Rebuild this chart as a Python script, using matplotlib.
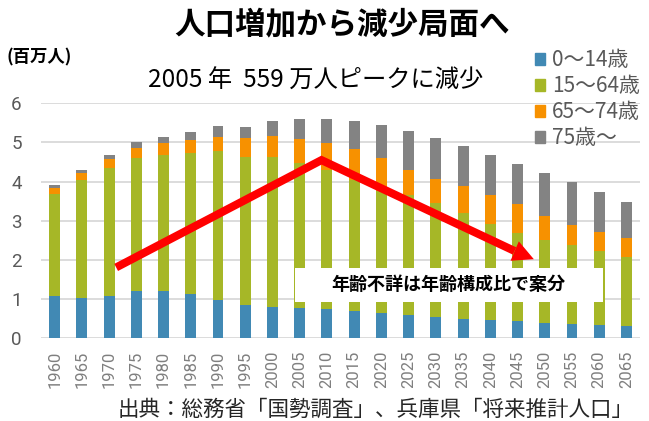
import numpy as np
import matplotlib
matplotlib.use('Agg')
import matplotlib.pyplot as plt
from matplotlib.patches import Patch, Rectangle

plt.rcParams['font.family'] = ['Noto Sans CJK JP', 'DejaVu Sans']

### Data (millions of people, Hyogo)
years = ['1960', '1965', '1970', '1975', '1980', '1985', '1990', '1995', '2000', '2005', '2010',
         '2015', '2020', '2025', '2030', '2035', '2040', '2045', '2050', '2055', '2060', '2065']
age_0_14 = [1.08, 1.02, 1.09, 1.22, 1.22, 1.14, 0.99, 0.86, 0.81, 0.78, 0.76,
            0.71, 0.65, 0.59, 0.54, 0.50, 0.48, 0.44, 0.40, 0.37, 0.35, 0.32]
age_15_64 = [2.60, 3.02, 3.26, 3.38, 3.45, 3.60, 3.78, 3.78, 3.81, 3.70, 3.55,
             3.33, 3.12, 3.06, 2.91, 2.70, 2.44, 2.25, 2.12, 2.00, 1.88, 1.76]
age_65_74 = [0.17, 0.18, 0.22, 0.27, 0.31, 0.33, 0.37, 0.47, 0.55, 0.61, 0.68,
             0.79, 0.83, 0.66, 0.62, 0.70, 0.75, 0.73, 0.61, 0.53, 0.48, 0.47]
age_75_up = [0.06, 0.09, 0.10, 0.13, 0.17, 0.21, 0.27, 0.29, 0.38, 0.51, 0.61,
             0.71, 0.85, 0.99, 1.05, 1.02, 1.01, 1.04, 1.10, 1.09, 1.02, 0.93]
series_labels = ['0〜14歳', '15〜64歳', '65〜74歳', '75歳〜']
series_colors = ['#4189B4', '#A6B727', '#F79100', '#838383']

### Annotation arrow (data coords): start, peak, head base, tip
arrow_x = [2.26, 9.80, 16.89]
arrow_y = [1.81, 4.55, 2.23]
arrow_tip = (17.60, 2.02)

fig = plt.figure(figsize=(6.49, 4.21), dpi=100)
ax = fig.add_axes([0.0632, 0.1964, 0.9230, 0.5582])

x = np.arange(len(years))
bottom = np.zeros(len(years))
for vals, color, label in zip([age_0_14, age_15_64, age_65_74, age_75_up], series_colors, series_labels):
    ax.bar(x, vals, 0.4, bottom=bottom, color=color, label=label, zorder=2)
    bottom += np.array(vals)

ax.set_xlim(-0.5, len(years) - 0.5)
ax.set_ylim(0, 6)
ax.set_yticks(range(7))
ax.set_xticks(x)
ax.set_xticklabels(years)
ax.yaxis.grid(True, color='#d9d9d9', lw=1.3)
ax.set_axisbelow(True)
for s in ax.spines.values():
    s.set_visible(False)
ax.tick_params(length=0)
ax.tick_params(axis='y', pad=14, labelsize=13.5, labelcolor='#595959')
ax.tick_params(axis='x', pad=9, labelsize=12, labelrotation=90, labelcolor='#7f7f7f')
for lbl in ax.get_xticklabels() + ax.get_yticklabels():
    lbl.set_fontfamily('Roboto')

### Red arrow
ax.plot(arrow_x, arrow_y, color='#ff0000', lw=5.8, solid_joinstyle='miter',
        solid_capstyle='butt', zorder=4)
ax.annotate('', xy=arrow_tip, xytext=(arrow_x[-1], arrow_y[-1]),
            arrowprops=dict(arrowstyle='-|>,head_length=0.75,head_width=0.38',
                            color='#ff0000', lw=0, mutation_scale=20,
                            shrinkA=0, shrinkB=0), zorder=4)

### Note box
ax.add_patch(Rectangle((8.84, 0.934), 11.29, 0.866, facecolor='white', edgecolor='none', zorder=3))
ax.text(14.45, 1.38, '年齢不詳は年齢構成比で案分', fontsize=13, fontweight='bold',
        ha='center', va='center', zorder=5)

### Texts
fig.text(342 / 649, 1 - 24 / 421, '人口増加から減少局面へ', fontsize=22, fontweight='bold',
         ha='center', va='center')
fig.text(316 / 649, 1 - 81 / 421, '2005 年  559 万人ピークに減少', fontsize=17.5,
         ha='center', va='center')
fig.text(7 / 649, 1 - 57 / 421, '(百万人)', fontsize=12.5, fontweight='bold',
         ha='left', va='center')
fig.text(376 / 649, 1 - 410 / 421, '出典：総務省「国勢調査」、兵庫県「将来推計人口」',
         fontsize=15.5, ha='center', va='center', color='#262626')

handles = [Patch(color=c) for c in series_colors]
fig.legend(handles, series_labels, loc='upper left', bbox_to_anchor=(535 / 649, 1 - 49 / 421),
           frameon=False, fontsize=15, handlelength=0.5, handleheight=0.5,
           handletextpad=0.3, labelspacing=0.2, borderpad=0, borderaxespad=0,
           labelcolor='#595959')

fig.savefig('out.png', dpi=100)
